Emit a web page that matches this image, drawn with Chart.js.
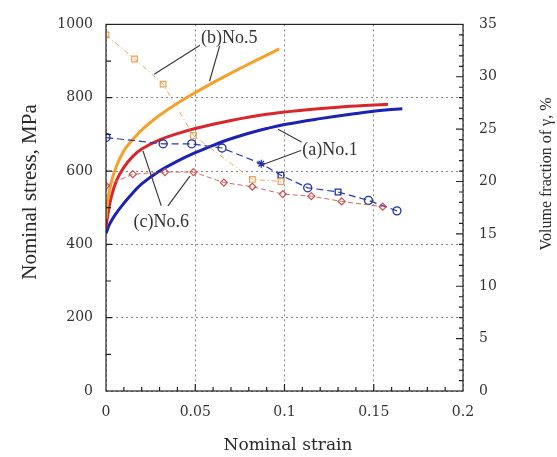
<!DOCTYPE html>
<html>
<head>
<meta charset="utf-8">
<title>Nominal stress and volume fraction vs strain</title>
<script src="https://cdn.jsdelivr.net/npm/chart.js@4.4.1/dist/chart.umd.min.js"></script>
<style>
  html, body { margin: 0; padding: 0; background: #fff; }
  #wrap { width: 557px; height: 457px; position: relative; }
</style>
</head>
<body>
<div id="wrap"><canvas id="chart"></canvas></div>
<script>
// Stress-strain curves (left axis, MPa)
const strainNo5 = [0, 0.001, 0.003, 0.006, 0.01, 0.015, 0.02, 0.025, 0.03, 0.04, 0.05, 0.06, 0.07, 0.08, 0.09, 0.097];
const stressNo5 = [470, 520, 570, 615, 655, 686, 712, 733, 752, 785, 814, 841, 867, 892, 916, 933];

const strainNo6 = [0, 0.001, 0.003, 0.006, 0.01, 0.015, 0.02, 0.03, 0.04, 0.05, 0.07, 0.09, 0.11, 0.13, 0.15, 0.158];
const stressNo6 = [445, 480, 530, 575, 610, 640, 660, 685, 702, 716, 738, 755, 766, 774, 780, 782];

const strainNo1 = [0, 0.002, 0.005, 0.01, 0.015, 0.02, 0.03, 0.04, 0.05, 0.06, 0.07, 0.08, 0.09, 0.1, 0.12, 0.14, 0.155, 0.166];
const stressNo1 = [430, 455, 480, 512, 540, 565, 600, 627, 650, 670, 688, 703, 716, 727, 743, 757, 766, 770];

// Volume fraction of gamma (right axis, %)
const vfStrainNo5 = [0, 0.016, 0.032, 0.049, 0.082, 0.098];
const vfNo5 = [34.0, 31.7, 29.3, 24.4, 20.2, 20.0];

const vfStrainNo1 = [0, 0.032, 0.048, 0.065, 0.087, 0.098, 0.113, 0.13, 0.147, 0.163];
const vfNo1 = [24.2, 23.6, 23.6, 23.2, 21.7, 20.6, 19.4, 19.0, 18.2, 17.2];
const vfStyleNo1 = ['circle', 'circle', 'circle', 'circle', 'star', 'rect', 'circle', 'rect', 'circle', 'circle'];

const vfStrainNo6 = [0, 0.015, 0.033, 0.049, 0.066, 0.082, 0.099, 0.115, 0.132, 0.155];
const vfNo6 = [19.6, 20.7, 20.9, 20.9, 19.9, 19.5, 18.8, 18.6, 18.1, 17.6];

// Tick values
const strainTicks = [0, 0.05, 0.1, 0.15, 0.2];
const stressTicks = [0, 200, 400, 600, 800, 1000];
const vfTicks = [0, 5, 10, 15, 20, 25, 30, 35];

// Labels with leader lines, in data units (strain, stress)
const labelText = ['(b)No.5', '(a)No.1', '(c)No.6'];
const labelPos = [[0.069, 963], [0.1255, 658], [0.031, 460]];
const leaderLines = [
  [[0.054, 947], [0.027, 864]],
  [[0.064, 947], [0.058, 845]],
  [[0.1115, 674], [0.0964, 714]],
  [[0.1115, 660], [0.088, 618]],
  [[0.031, 505], [0.0207, 655]],
  [[0.0347, 505], [0.047, 586]]
];

function pts(xs, ys) {
  return xs.map((x, i) => ({ x: x, y: ys[i] }));
}

const ORANGE = '#f5a02a';
const RED = '#d8262a';
const BLUE = '#1c22b4';

const frame = {
  id: 'frame',
  afterDraw(chart) {
    const ctx = chart.ctx;
    const a = chart.chartArea;
    const sx = chart.scales.x, sy = chart.scales.y, sy2 = chart.scales.y2;
    ctx.save();

    // leader lines and labels
    ctx.strokeStyle = '#3a3a3a';
    ctx.lineWidth = 1.2;
    leaderLines.forEach(l => {
      ctx.beginPath();
      ctx.moveTo(sx.getPixelForValue(l[0][0]), sy.getPixelForValue(l[0][1]));
      ctx.lineTo(sx.getPixelForValue(l[1][0]), sy.getPixelForValue(l[1][1]));
      ctx.stroke();
    });
    ctx.font = '18px "Liberation Serif"';
    ctx.textAlign = 'center';
    ctx.textBaseline = 'middle';
    labelText.forEach((t, i) => {
      const px = sx.getPixelForValue(labelPos[i][0]);
      const py = sy.getPixelForValue(labelPos[i][1]);
      const w = ctx.measureText(t).width;
      ctx.fillStyle = '#fff';
      ctx.fillRect(px - w / 2 - 1, py - 8, w + 2, 16);
      ctx.fillStyle = '#333';
      ctx.fillText(t, px, py);
    });

    // box
    ctx.strokeStyle = '#222';
    ctx.lineWidth = 1.2;
    ctx.strokeRect(a.left, a.top, a.right - a.left, a.bottom - a.top);

    // inner ticks
    ctx.lineWidth = 1.2;
    ctx.beginPath();
    for (let v = 100; v < 1000; v += 100) {
      const y = sy.getPixelForValue(v);
      ctx.moveTo(a.left, y);
      ctx.lineTo(a.left + (v % 200 === 0 ? 6 : 5), y);
    }
    for (let v = 1; v < 35; v++) {
      const y = sy2.getPixelForValue(v);
      ctx.moveTo(a.right, y);
      ctx.lineTo(a.right - (v % 5 === 0 ? 7 : 4), y);
    }
    for (let i = 1; i < 20; i++) {
      const x = sx.getPixelForValue(i / 100);
      ctx.moveTo(x, a.bottom);
      ctx.lineTo(x, a.bottom - (i % 5 === 0 ? 7 : 4));
    }
    ctx.stroke();

    // axis titles
    ctx.fillStyle = '#2a2a2a';
    ctx.textAlign = 'center';
    ctx.textBaseline = 'middle';
    ctx.font = '17px "DejaVu Serif"';
    ctx.fillText('Nominal strain', 288, 446);

    ctx.save();
    ctx.translate(30, 192);
    ctx.rotate(-Math.PI / 2);
    ctx.font = '21px "Liberation Serif"';
    ctx.fillText('Nominal stress, MPa', 0, 0);
    ctx.restore();

    ctx.save();
    ctx.translate(547, 174);
    ctx.rotate(-Math.PI / 2);
    ctx.font = '16px "Liberation Serif"';
    ctx.fillText('Volume fraction of γ, %', 0, 0);
    ctx.restore();

    ctx.restore();
  }
};

const tickFont = { family: 'DejaVu Serif', size: 14 };

new Chart(document.getElementById('chart'), {
  type: 'line',
  data: {
    datasets: [
      {
        data: pts(vfStrainNo5, vfNo5), yAxisID: 'y2',
        borderColor: '#eaa860', borderWidth: 1, borderDash: [5, 3, 1, 3],
        pointStyle: 'rect', pointRadius: 4, pointBorderColor: '#e8a05a',
        pointBackgroundColor: 'rgba(255,255,255,0)', pointBorderWidth: 1.2
      },
      {
        data: pts(vfStrainNo6, vfNo6), yAxisID: 'y2',
        borderColor: '#d26a6a', borderWidth: 1, borderDash: [5, 3],
        pointStyle: 'rectRot', pointRadius: 3.5, pointBorderColor: '#c85050',
        pointBackgroundColor: 'rgba(255,255,255,0)', pointBorderWidth: 1.2
      },
      {
        data: pts(vfStrainNo1, vfNo1), yAxisID: 'y2',
        borderColor: '#2a3aa8', borderWidth: 1.2, borderDash: [7, 4],
        pointStyle: vfStyleNo1, pointRadius: 4, pointBorderColor: '#2030a8',
        pointBackgroundColor: 'rgba(255,255,255,0)', pointBorderWidth: 1.3
      },
      {
        data: pts(strainNo5, stressNo5), yAxisID: 'y',
        borderColor: ORANGE, borderWidth: 3, pointRadius: 0, tension: 0.4
      },
      {
        data: pts(strainNo6, stressNo6), yAxisID: 'y',
        borderColor: RED, borderWidth: 3, pointRadius: 0, tension: 0.4
      },
      {
        data: pts(strainNo1, stressNo1), yAxisID: 'y',
        borderColor: BLUE, borderWidth: 3, pointRadius: 0, tension: 0.4
      }
    ]
  },
  options: {
    responsive: true,
    maintainAspectRatio: false,
    animation: false,
    layout: { padding: { top: 17, left: 0, right: 0, bottom: 0 } },
    plugins: { legend: { display: false }, tooltip: { enabled: false } },
    scales: {
      x: {
        type: 'linear', min: 0, max: 0.2,
        afterBuildTicks: s => { s.ticks = strainTicks.map(v => ({ value: v })); },
        afterFit: s => { s.height = 66; },
        ticks: { font: tickFont, color: '#333', padding: 13, callback: v => String(+v.toFixed(2)) },
        grid: { drawTicks: false, color: '#888', lineWidth: 1 },
        border: { display: false, dash: [2, 3] }
      },
      y: {
        type: 'linear', position: 'left', min: 0, max: 1000,
        afterBuildTicks: s => { s.ticks = stressTicks.map(v => ({ value: v })); },
        afterFit: s => { s.width = 106; },
        ticks: { font: tickFont, color: '#333', padding: 13, callback: v => String(v) },
        grid: { drawTicks: false, color: '#888', lineWidth: 1 },
        border: { display: false, dash: [2, 3] }
      },
      y2: {
        type: 'linear', position: 'right', min: 0, max: 35,
        afterBuildTicks: s => { s.ticks = vfTicks.map(v => ({ value: v })); },
        afterFit: s => { s.width = 94; },
        ticks: { font: tickFont, color: '#333', padding: 16, callback: v => String(v) },
        grid: { display: false, drawTicks: false },
        border: { display: false }
      }
    }
  },
  plugins: [frame]
});
</script>
</body>
</html>
